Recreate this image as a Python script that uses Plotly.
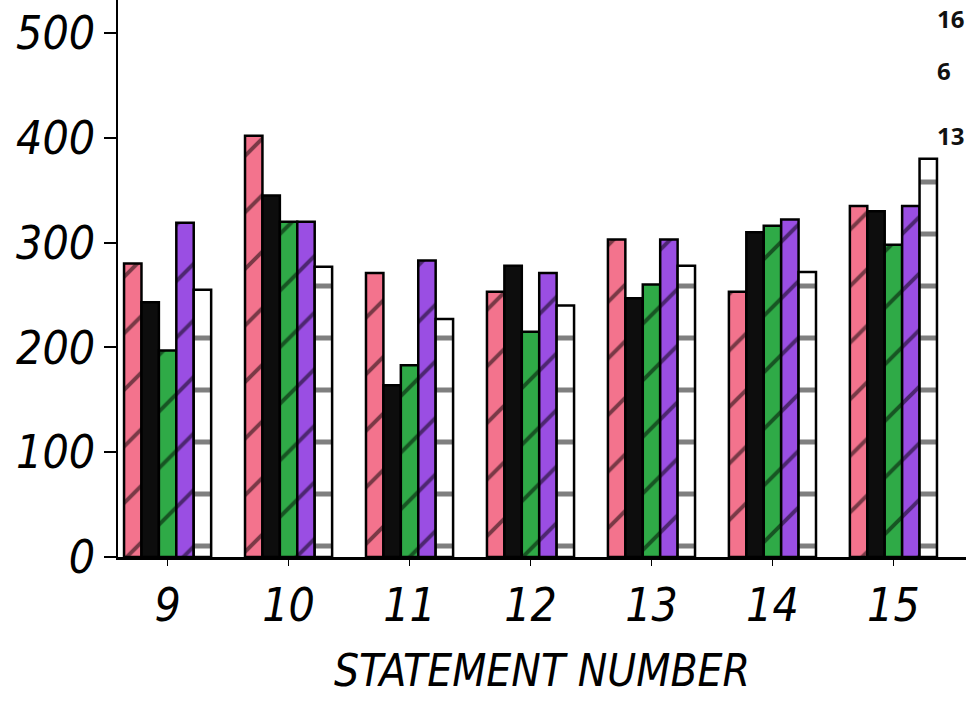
import plotly.graph_objects as go

categories = ["9", "10", "11", "12", "13", "14", "15"]
pink_vals = [280, 402, 271, 253, 303, 253, 335]
black_vals = [243, 345, 164, 278, 247, 310, 330]
green_vals = [197, 320, 183, 215, 260, 316, 298]
purple_vals = [319, 320, 283, 271, 303, 322, 335]
white_vals = [255, 277, 227, 240, 278, 272, 380]
y_ticks = [0, 100, 200, 300, 400, 500]
side_notes = ["16", "6", "13"]

series = [
    ("Pink", pink_vals, "#f3738d", "/", 40),
    ("Black", black_vals, "#0d0d0d", "", 40),
    ("Green", green_vals, "#2faa47", "/", 40),
    ("Purple", purple_vals, "#9a4ee3", "/", 40),
    ("White", white_vals, "#ffffff", "-", 52),
]

fig = go.Figure()
for name, vals, color, shape, psize in series:
    fig.add_trace(go.Bar(
        x=categories, y=vals, name=name,
        marker=dict(
            color=color,
            line=dict(color="#000000", width=2.5),
            pattern=dict(shape=shape, fgcolor="#000000", size=psize, solidity=0.1),
        ),
    ))

font_fam = "DejaVu Sans Condensed, Liberation Sans Narrow, DejaVu Sans, sans-serif"

fig.update_layout(
    width=966, height=704,
    margin=dict(l=118, r=0, t=0, b=147, autoexpand=False),
    paper_bgcolor="white", plot_bgcolor="white",
    barmode="group", bargap=0.28, bargroupgap=0,
    showlegend=False,
    xaxis=dict(
        type="category", range=[-0.41, 6.6],
        showline=True, linecolor="#000000", linewidth=3,
        ticks="outside", ticklen=6, tickcolor="#000000",
        showgrid=False, zeroline=False,
        tickfont=dict(family=font_fam, size=46, color="#000000", style="italic"),
        title=dict(text="STATEMENT NUMBER", standoff=24,
                   font=dict(family=font_fam, size=44, color="#000000", style="italic")),
    ),
    yaxis=dict(
        range=[0, 531.5], tickvals=y_ticks, ticktext=[str(v) for v in y_ticks],
        showline=True, linecolor="#000000", linewidth=1.5,
        ticks="outside", ticklen=12, tickcolor="#000000", tickwidth=2,
        showgrid=False, zeroline=False,
        tickfont=dict(family=font_fam, size=46, color="#000000", style="italic"),
    ),
)

note_pos = [(1.0, "right", 1.0), (0.963, "left", 0.906), (1.0, "right", 0.79)]
for txt, (xx, xa, yy) in zip(side_notes, note_pos):
    fig.add_annotation(
        text=txt, xref="paper", yref="paper", x=xx, y=yy,
        xanchor=xa, yanchor="top", showarrow=False,
        font=dict(family="Open Sans, Noto Sans, sans-serif", size=24, color="#111111", weight="bold"),
    )

fig.write_html(
    "out.html",
    config={"displayModeBar": False},
    post_script="document.body.style.margin='0';document.body.style.overflow='hidden';",
)
